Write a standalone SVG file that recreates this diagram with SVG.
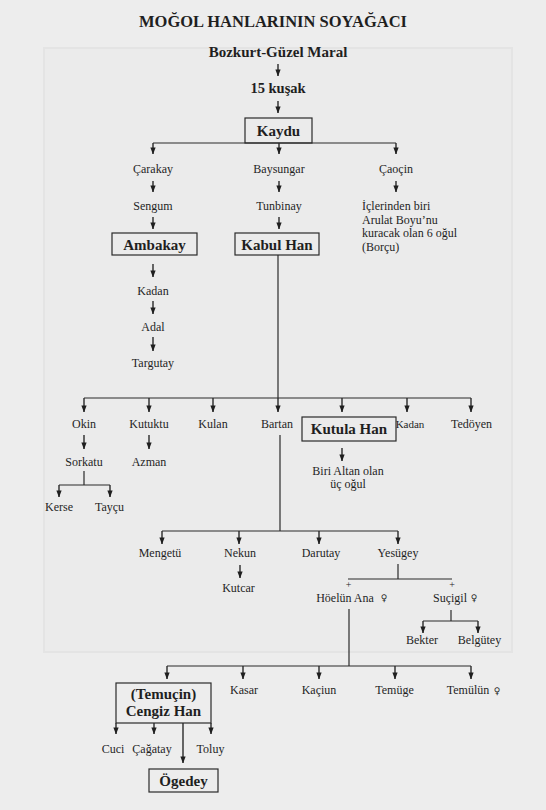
<svg xmlns="http://www.w3.org/2000/svg" width="546" height="810" viewBox="0 0 546 810">
  <style>
    .t { font-family: "Liberation Serif", "Times New Roman", serif; fill: #1f1f1f; text-anchor: middle; }
    .n { font-size: 12px; }
    .b { font-size: 15px; font-weight: bold; }
    .l { text-anchor: start; }
    .sym { font-family: "DejaVu Sans", sans-serif; font-size: 9px; }
    .box { fill: none; stroke: #2a2a2a; stroke-width: 1.2; }
    .ln { fill: none; stroke: #2a2a2a; stroke-width: 1.2; }
    .ar { fill: none; stroke: #2a2a2a; stroke-width: 1.4; marker-end: url(#head); }
  </style>
  <defs>
    <marker id="head" viewBox="0 0 8 6" refX="7.5" refY="3" markerWidth="7" markerHeight="6" markerUnits="userSpaceOnUse" orient="auto">
      <path d="M0,0 L8,3 L0,6 z" fill="#1f1f1f"/>
    </marker>
  </defs>

  <!-- paper -->
  <rect x="0" y="0" width="546" height="810" fill="#ededed"/>
  <rect x="44" y="48" width="468" height="604" fill="#ebebeb" stroke="#e4e4e4" stroke-width="2"/>

  <!-- title -->
  <text class="t" x="273" y="27" style="font-size:16.5px;font-weight:bold">MOĞOL HANLARININ SOYAĞACI</text>

  <!-- connectors -->
  <g id="connectors">
    <line class="ar" x1="278" y1="64" x2="278" y2="76"/>
    <line class="ar" x1="278" y1="101" x2="278" y2="113"/>
    <line class="ln" x1="153" y1="143" x2="396" y2="143"/>
    <line class="ar" x1="153" y1="143" x2="153" y2="154"/>
    <line class="ar" x1="279" y1="143" x2="279" y2="154"/>
    <line class="ar" x1="396" y1="143" x2="396" y2="154"/>
    <line class="ar" x1="153" y1="181" x2="153" y2="192"/>
    <line class="ar" x1="279" y1="181" x2="279" y2="192"/>
    <line class="ar" x1="396" y1="181" x2="396" y2="192"/>
    <line class="ar" x1="153" y1="217" x2="153" y2="229"/>
    <line class="ar" x1="279" y1="217" x2="279" y2="229"/>
    <line class="ar" x1="153" y1="264" x2="153" y2="277"/>
    <line class="ar" x1="153" y1="301" x2="153" y2="314"/>
    <line class="ar" x1="153" y1="337" x2="153" y2="351"/>

    <line class="ln" x1="278" y1="255" x2="278" y2="398"/>
    <line class="ln" x1="84" y1="398" x2="471" y2="398"/>
    <line class="ar" x1="84" y1="398" x2="84" y2="412"/>
    <line class="ar" x1="149" y1="398" x2="149" y2="412"/>
    <line class="ar" x1="213" y1="398" x2="213" y2="412"/>
    <line class="ar" x1="278" y1="398" x2="278" y2="412"/>
    <line class="ar" x1="342" y1="398" x2="342" y2="412"/>
    <line class="ar" x1="407" y1="398" x2="407" y2="412"/>
    <line class="ar" x1="471" y1="398" x2="471" y2="412"/>

    <line class="ar" x1="84" y1="435" x2="84" y2="449"/>
    <line class="ar" x1="149" y1="435" x2="149" y2="449"/>
    <line class="ar" x1="342" y1="448" x2="342" y2="461"/>
    <line class="ln" x1="84" y1="471" x2="84" y2="485"/>
    <line class="ln" x1="59" y1="485" x2="110" y2="485"/>
    <line class="ar" x1="59" y1="485" x2="59" y2="497"/>
    <line class="ar" x1="110" y1="485" x2="110" y2="497"/>

    <line class="ln" x1="280" y1="435" x2="280" y2="531"/>
    <line class="ln" x1="162" y1="531" x2="398" y2="531"/>
    <line class="ar" x1="162" y1="531" x2="162" y2="544"/>
    <line class="ar" x1="239" y1="531" x2="239" y2="544"/>
    <line class="ar" x1="319" y1="531" x2="319" y2="544"/>
    <line class="ar" x1="398" y1="531" x2="398" y2="544"/>
    <line class="ar" x1="240" y1="565" x2="240" y2="578"/>

    <line class="ln" x1="398" y1="564" x2="398" y2="579"/>
    <line class="ln" x1="348" y1="579" x2="452" y2="579"/>
    <line class="ln" x1="349" y1="609" x2="349" y2="666"/>
    <line class="ln" x1="451" y1="610" x2="451" y2="621"/>
    <line class="ln" x1="423" y1="621" x2="478" y2="621"/>
    <line class="ar" x1="423" y1="621" x2="423" y2="633"/>
    <line class="ar" x1="478" y1="621" x2="478" y2="633"/>

    <line class="ln" x1="167" y1="666" x2="471" y2="666"/>
    <line class="ar" x1="167" y1="666" x2="167" y2="679"/>
    <line class="ar" x1="243" y1="666" x2="243" y2="679"/>
    <line class="ar" x1="319" y1="666" x2="319" y2="679"/>
    <line class="ar" x1="395" y1="666" x2="395" y2="679"/>
    <line class="ar" x1="471" y1="666" x2="471" y2="679"/>

    <line class="ar" x1="116" y1="723" x2="116" y2="734"/>
    <line class="ar" x1="154" y1="723" x2="154" y2="734"/>
    <line class="ar" x1="211" y1="723" x2="211" y2="734"/>
    <line class="ar" x1="183" y1="723" x2="183" y2="763"/>
  </g>

  <!-- top lineage -->
  <g id="bozkurt"><text class="t" x="278" y="57" style="font-size:15px;font-weight:bold">Bozkurt-Güzel Maral</text></g>
  <g id="kusak"><text class="t" x="278" y="93" style="font-size:14.5px;font-weight:bold">15 kuşak</text></g>
  <g id="kaydu">
    <rect class="box" x="245" y="118" width="67" height="25"/>
    <text class="t b" x="278.5" y="136">Kaydu</text>
  </g>

  <g id="carakay"><text class="t n" x="153" y="173">Çarakay</text></g>
  <g id="baysungar"><text class="t n" x="279" y="173">Baysungar</text></g>
  <g id="caocin"><text class="t n" x="396" y="173">Çaoçin</text></g>
  <g id="sengum"><text class="t n" x="153" y="210">Sengum</text></g>
  <g id="tunbinay"><text class="t n" x="279" y="210">Tunbinay</text></g>
  <g id="arulat">
    <text class="t n l" x="362" y="210">İçlerinden biri</text>
    <text class="t n l" x="362" y="223.5">Arulat Boyu’nu</text>
    <text class="t n l" x="362" y="237">kuracak olan 6 oğul</text>
    <text class="t n l" x="362" y="250.5">(Borçu)</text>
  </g>
  <g id="ambakay">
    <rect class="box" x="112" y="233" width="85" height="22"/>
    <text class="t b" x="154.5" y="250">Ambakay</text>
  </g>
  <g id="kabul-han">
    <rect class="box" x="235" y="233" width="84" height="22"/>
    <text class="t b" x="277" y="250">Kabul Han</text>
  </g>
  <g id="kadan-1"><text class="t n" x="153" y="295">Kadan</text></g>
  <g id="adal"><text class="t n" x="153" y="331">Adal</text></g>
  <g id="targutay"><text class="t n" x="153" y="367">Targutay</text></g>

  <!-- sons of Kabul Han -->
  <g id="okin"><text class="t n" x="84" y="428">Okin</text></g>
  <g id="kutuktu"><text class="t n" x="149" y="428">Kutuktu</text></g>
  <g id="kulan"><text class="t n" x="213" y="428">Kulan</text></g>
  <g id="bartan"><text class="t n" x="277" y="428">Bartan</text></g>
  <g id="kutula-han">
    <rect class="box" x="302" y="417" width="94" height="24"/>
    <text class="t b" x="349" y="434">Kutula Han</text>
  </g>
  <g id="kadan-2"><text class="t n" x="410" y="428" style="font-size:11px">Kadan</text></g>
  <g id="tedoyen"><text class="t n" x="471.5" y="428">Tedöyen</text></g>
  <g id="altan">
    <text class="t n" x="348" y="475">Biri Altan olan</text>
    <text class="t n" x="348" y="487.5">üç oğul</text>
  </g>
  <g id="sorkatu"><text class="t n" x="84" y="466">Sorkatu</text></g>
  <g id="azman"><text class="t n" x="149" y="466">Azman</text></g>
  <g id="kerse"><text class="t n" x="59" y="511">Kerse</text></g>
  <g id="taycu"><text class="t n" x="109.5" y="511">Tayçu</text></g>

  <!-- sons of Bartan -->
  <g id="mengetu"><text class="t n" x="160" y="557">Mengetü</text></g>
  <g id="nekun"><text class="t n" x="240" y="557">Nekun</text></g>
  <g id="darutay"><text class="t n" x="321" y="557">Darutay</text></g>
  <g id="yesugey"><text class="t n" x="398" y="557">Yesügey</text></g>
  <g id="kutcar"><text class="t n" x="238.5" y="591.5">Kutcar</text></g>

  <!-- wives of Yesügey -->
  <g id="hoelun">
    <text class="t n" x="348.5" y="587.5" style="font-size:10px">+</text>
    <text class="t n" x="345" y="601.5">Höelün Ana</text>
    <text class="t sym" x="384" y="601">♀</text>
  </g>
  <g id="sucigil">
    <text class="t n" x="452" y="587.5" style="font-size:10px">+</text>
    <text class="t n" x="450" y="601.5">Suçigil</text>
    <text class="t sym" x="474" y="601">♀</text>
  </g>
  <g id="bekter"><text class="t n" x="422" y="644">Bekter</text></g>
  <g id="belgutey"><text class="t n" x="479.5" y="644">Belgütey</text></g>

  <!-- children of Höelün -->
  <g id="cengiz-han">
    <rect class="box" x="116" y="683" width="95" height="40"/>
    <text class="t b" x="163.5" y="699">(Temuçin)</text>
    <text class="t b" x="163.5" y="716">Cengiz Han</text>
  </g>
  <g id="kasar"><text class="t n" x="244" y="694">Kasar</text></g>
  <g id="kaciun"><text class="t n" x="319" y="694">Kaçiun</text></g>
  <g id="temuge"><text class="t n" x="394.5" y="694">Temüge</text></g>
  <g id="temulun">
    <text class="t n" x="468" y="694">Temülün</text>
    <text class="t sym" x="497" y="693.5">♀</text>
  </g>

  <!-- sons of Cengiz Han -->
  <g id="cuci"><text class="t n" x="113" y="753">Cuci</text></g>
  <g id="cagatay"><text class="t n" x="152" y="753">Çağatay</text></g>
  <g id="toluy"><text class="t n" x="210.5" y="753">Toluy</text></g>
  <g id="ogedey">
    <rect class="box" x="149" y="769" width="69" height="23"/>
    <text class="t b" x="183.5" y="786">Ögedey</text>
  </g>
</svg>
